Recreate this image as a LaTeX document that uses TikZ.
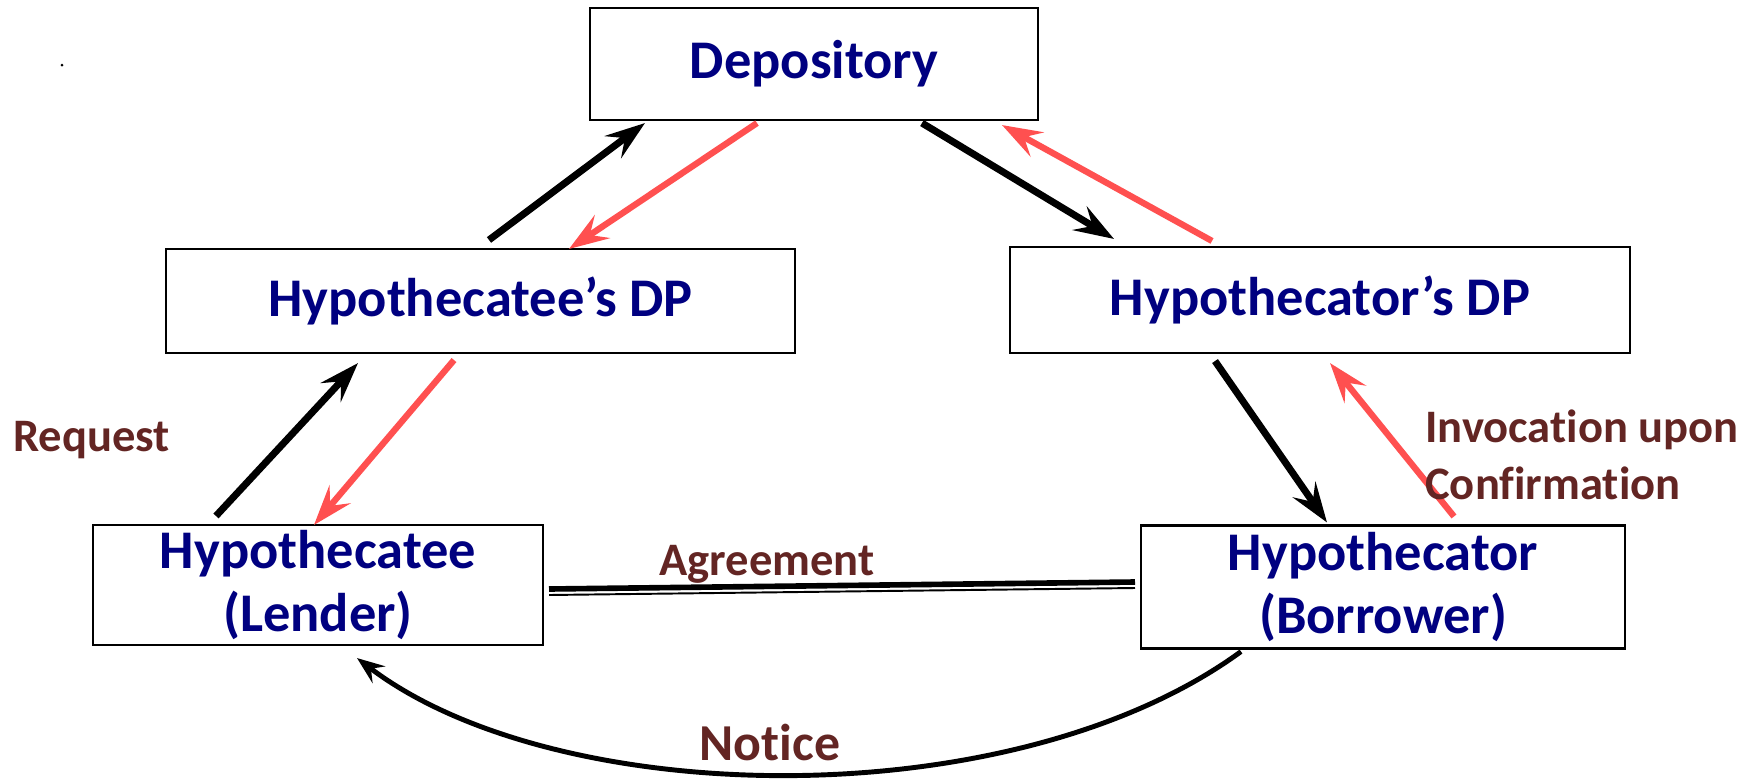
\documentclass[tikz,border=0pt]{standalone}
\usepackage{fontspec}
\setmainfont[Ligatures={TeX,NoCommon}]{Carlito}
\usepackage{xcolor}
\usetikzlibrary{arrows.meta}

\definecolor{boxtext}{HTML}{000080}
\definecolor{lbltext}{HTML}{632523}
\definecolor{redarr}{HTML}{FF5050}

\begin{document}
\begin{tikzpicture}[x=0.02cm, y=-0.02cm,
  every node/.style={font=\bfseries},
  box/.style={draw, line width=1.2pt, inner sep=0pt, align=center, text=boxtext,
              font=\fontsize{31}{36}\selectfont\bfseries},
  lbl/.style={text=lbltext, inner sep=0pt, align=left,
              font=\fontsize{26.5}{32.5}\selectfont\bfseries},
  blk/.style={-{Stealth[length=0.8cm, width=0.55cm, inset=0.3cm]}, line width=4pt},
  rd/.style={blk, draw=redarr, line width=3.6pt}
]
\useasboundingbox (0,0) rectangle (1762,778);

\node[box, minimum width=8.96cm, minimum height=2.24cm] (dep) at (814,64) {Depository};
\node[box, minimum width=12.58cm, minimum height=2.08cm] (teedp) at (480.5,301) {Hypothecatee’s DP};
\node[box, minimum width=12.4cm, minimum height=2.12cm] (tordp) at (1320,300) {Hypothecator’s DP};
\node[box, minimum width=9cm, minimum height=2.4cm] (tee) at (318,585) {Hypothecatee\\(Lender)};
\node[box, minimum width=9.68cm, minimum height=2.46cm] (tor) at (1383,587) {Hypothecator\\(Borrower)};

% depository <-> DPs
\draw[blk] ([shift={(324,-8)}]teedp.north west) -- ([shift={(56,2)}]dep.south west);
\draw[rd] ([shift={(168,2)}]dep.south west) -- ([shift={(404,1)}]teedp.north west);
\draw[blk] ([shift={(333,2)}]dep.south west) -- ([shift={(105,-7)}]tordp.north west);
\draw[rd] ([shift={(203,-5)}]tordp.north west) -- ([shift={(413,4)}]dep.south west);

% DPs <-> parties
\draw[blk] ([shift={(124,-8)}]tee.north west) -- ([shift={(193,9)}]teedp.south west);
\draw[rd] ([shift={(289,6)}]teedp.south west) -- ([shift={(222,1)}]tee.north west);
\draw[blk] ([shift={(206,7)}]tordp.south west) -- ([shift={(187,-2)}]tor.north west);
\draw[rd] ([shift={(314,-8)}]tor.north west) -- ([shift={(321,9)}]tordp.south west);

% agreement
\draw[line width=3.2pt] ([shift={(5,4)}]tee.east) -- ([shift={(-5,-5)}]tor.west);
\draw[line width=1.1pt] ([shift={(5,10)}]tee.east) -- ([shift={(-5,1)}]tor.west);

% notice
\draw[-{Stealth[length=0.55cm, width=0.42cm, inset=0.2cm]}, line width=2.8pt]
  ([shift={(101,2)}]tor.south west) .. controls +(-227,166) and +(201,153) .. ([shift={(265,12)}]tee.south west);

\node[lbl, anchor=base west] (req) at (13,451) {Request};
\node[lbl, anchor=base] (agr) at (767,575) {Agreement};
\node[lbl, anchor=north west] (inv) at (1425,409) {Invocation upon\\Confirmation};
\node[lbl, font=\fontsize{29.5}{35}\selectfont\bfseries, anchor=base] (ntc) at (770,760) {Notice};

\fill (62,65) circle (1.5);
\end{tikzpicture}
\end{document}
